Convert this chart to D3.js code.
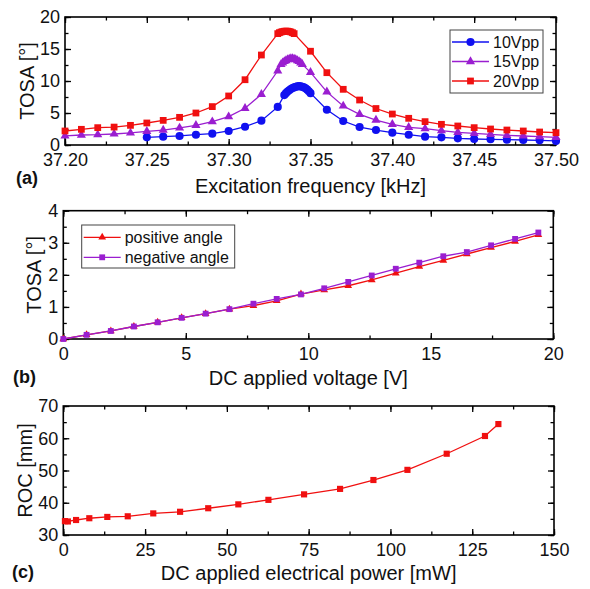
<!DOCTYPE html>
<html>
<head>
<meta charset="utf-8">
<script src="https://cdn.jsdelivr.net/npm/d3@7/dist/d3.min.js"></script>
<style>
body { margin: 0; background: #fff; }
</style>
</head>
<body>
<div id="chart"></div>
<script>
// panel (a): TOSA vs excitation frequency
var freq10 = [37.25, 37.26, 37.27, 37.28, 37.29, 37.30, 37.31, 37.32, 37.33,
    37.334, 37.335, 37.336, 37.337, 37.338, 37.339, 37.340, 37.341, 37.342, 37.343, 37.344, 37.345, 37.346, 37.347, 37.348, 37.349, 37.350,
    37.36, 37.37, 37.38, 37.39, 37.40, 37.41, 37.42, 37.43, 37.44, 37.45, 37.46, 37.47, 37.48, 37.49, 37.50];
var tosa10 = [1.20, 1.30, 1.41, 1.61, 1.77, 2.19, 2.86, 3.80, 5.95,
    7.8, 8.1, 8.35, 8.55, 8.75, 8.9, 9.0, 9.1, 9.15, 9.2, 9.15, 9.1, 9.0, 8.85, 8.65, 8.4, 8.1,
    5.5, 3.75, 2.81, 2.34, 1.93, 1.61, 1.30, 1.20, 1.04, 0.94, 0.89, 0.83, 0.78, 0.73, 0.63];
var freq15 = [37.20, 37.21, 37.22, 37.23, 37.24, 37.25, 37.26, 37.27, 37.28, 37.29, 37.30, 37.31, 37.32, 37.33,
    37.332, 37.333, 37.334, 37.335, 37.336, 37.337, 37.338, 37.339, 37.340, 37.341, 37.342, 37.343, 37.344, 37.345,
    37.35, 37.36, 37.37, 37.38, 37.39, 37.40, 37.41, 37.42, 37.43, 37.44, 37.45, 37.46, 37.47, 37.48, 37.49, 37.50];
var tosa15 = [1.41, 1.56, 1.61, 1.72, 1.88, 2.14, 2.34, 2.66, 3.07, 3.65, 4.43, 5.73, 7.92, 11.6,
    12.6, 12.85, 13.05, 13.2, 13.35, 13.45, 13.5, 13.5, 13.45, 13.35, 13.2, 13.05, 12.85, 12.6,
    11.35, 8.3, 6.1, 4.8, 3.9, 3.23, 2.76, 2.55, 2.24, 1.98, 1.82, 1.67, 1.51, 1.41, 1.30, 1.20];
var freq20 = [37.20, 37.21, 37.22, 37.23, 37.24, 37.25, 37.26, 37.27, 37.28, 37.29, 37.30, 37.31, 37.32,
    37.330, 37.331, 37.332, 37.333, 37.334, 37.335, 37.336, 37.337, 37.338, 37.339, 37.340,
    37.35, 37.36, 37.37, 37.38, 37.39, 37.40, 37.41, 37.42, 37.43, 37.44, 37.45, 37.46, 37.47, 37.48, 37.49, 37.50];
var tosa20 = [2.19, 2.45, 2.71, 2.80, 3.07, 3.44, 3.85, 4.32, 5.00, 6.00, 7.66, 10.2, 14.06,
    17.4, 17.55, 17.65, 17.72, 17.77, 17.8, 17.78, 17.74, 17.66, 17.55, 17.4,
    14.65, 11.3, 8.7, 7.03, 5.7, 4.84, 4.17, 3.65, 3.23, 2.97, 2.71, 2.5, 2.34, 2.19, 2.03, 1.93];

// panel (b): TOSA vs DC voltage
var voltage = [0, 0.95, 1.94, 2.88, 3.85, 4.83, 5.81, 6.78, 7.76, 8.71, 9.70,
    10.65, 11.63, 12.59, 13.57, 14.53, 15.51, 16.47, 17.46, 18.44, 19.39];
var tosaPos = [0, 0.13, 0.25, 0.39, 0.52, 0.66, 0.79, 0.93, 1.04, 1.19, 1.40,
    1.53, 1.66, 1.84, 2.05, 2.26, 2.45, 2.65, 2.85, 3.04, 3.25];
var tosaNeg = [0, 0.13, 0.25, 0.39, 0.52, 0.66, 0.79, 0.93, 1.10, 1.25, 1.39,
    1.58, 1.78, 1.98, 2.19, 2.38, 2.58, 2.71, 2.92, 3.12, 3.32];

// panel (c): ROC vs electrical power
var power = [0.5, 1.4, 3.9, 7.95, 13.45, 19.7, 27.5, 35.7, 44.3, 53.5, 62.7,
    73.6, 84.6, 94.8, 105.2, 117.2, 128.9, 133.0];
var roc = [34.3, 34.2, 34.65, 35.2, 35.6, 35.8, 36.7, 37.2, 38.3, 39.5, 40.9,
    42.6, 44.3, 47.05, 50.2, 55.2, 60.7, 64.4];

var FONT = "'Liberation Sans', Arial, Helvetica, sans-serif";
var BLUE = "#1010f0", PURPLE = "#9a1ed0", RED = "#f01010";

var svg = d3.select("#chart").append("svg")
    .attr("width", 590)
    .attr("height", 589)
    .style("font-family", FONT);

function drawPanel(p) {
    var x = d3.scaleLinear().domain(p.xDomain).range([p.left, p.right]);
    var y = d3.scaleLinear().domain(p.yDomain).range([p.bottom, p.top]);
    var g = svg.append("g");

    // minor ticks all four sides
    g.append("g").attr("transform", "translate(0," + p.bottom + ")")
        .call(d3.axisBottom(x).tickValues(p.xMinor).tickSizeInner(-3.5).tickSizeOuter(0).tickFormat(""));
    g.append("g").attr("transform", "translate(0," + p.top + ")")
        .call(d3.axisTop(x).tickValues(p.xMinor).tickSizeInner(-3.5).tickSizeOuter(0).tickFormat(""));
    g.append("g").attr("transform", "translate(" + p.left + ",0)")
        .call(d3.axisLeft(y).tickValues(p.yMinor).tickSizeInner(-3.5).tickSizeOuter(0).tickFormat(""));
    g.append("g").attr("transform", "translate(" + p.right + ",0)")
        .call(d3.axisRight(y).tickValues(p.yMinor).tickSizeInner(-3.5).tickSizeOuter(0).tickFormat(""));

    // major ticks
    g.append("g").attr("class", "lab").attr("transform", "translate(0," + p.bottom + ")")
        .call(d3.axisBottom(x).tickValues(p.xTicks).tickSizeInner(-6).tickSizeOuter(0).tickPadding(8).tickFormat(p.xFormat));
    g.append("g").attr("transform", "translate(0," + p.top + ")")
        .call(d3.axisTop(x).tickValues(p.xTicks).tickSizeInner(-6).tickSizeOuter(0).tickFormat(""));
    g.append("g").attr("class", "lab").attr("transform", "translate(" + p.left + ",0)")
        .call(d3.axisLeft(y).tickValues(p.yTicks).tickSizeInner(-6).tickSizeOuter(0).tickPadding(5).tickFormat(d3.format("d")));
    g.append("g").attr("transform", "translate(" + p.right + ",0)")
        .call(d3.axisRight(y).tickValues(p.yTicks).tickSizeInner(-6).tickSizeOuter(0).tickFormat(""));

    g.selectAll(".domain").remove();
    g.selectAll(".tick line").style("stroke", "#000").style("stroke-width", "1.3px");
    g.selectAll(".lab text")
        .style("font-family", FONT)
        .style("font-size", "18px")
        .style("fill", "#111");

    g.append("rect")
        .attr("x", p.left).attr("y", p.top)
        .attr("width", p.right - p.left).attr("height", p.bottom - p.top)
        .style("fill", "none").style("stroke", "#000").style("stroke-width", "1.6px");

    g.append("text")
        .attr("x", (p.left + p.right) / 2)
        .attr("y", p.xLabelY)
        .style("text-anchor", "middle")
        .style("font-size", "20px")
        .style("fill", "#111")
        .text(p.xLabel);
    g.append("text")
        .attr("transform", "rotate(-90)")
        .attr("x", -(p.top + p.bottom) / 2)
        .attr("y", p.yLabelX)
        .style("text-anchor", "middle")
        .style("font-size", "20px")
        .style("fill", "#111")
        .text(p.yLabel);
    g.append("text")
        .attr("x", p.tagX)
        .attr("y", p.tagY)
        .style("font-size", "18px")
        .style("font-weight", "bold")
        .style("fill", "#111")
        .text(p.tag);

    return { x: x, y: y, g: g };
}

function drawSeries(panel, xs, ys, color, symbol, size) {
    var pts = xs.map(function (d, i) { return [d, ys[i]]; });
    var line = d3.line()
        .x(function (d) { return panel.x(d[0]); })
        .y(function (d) { return panel.y(d[1]); });
    panel.g.append("path")
        .datum(pts)
        .attr("d", line)
        .style("fill", "none")
        .style("stroke", color)
        .style("stroke-width", "1.3px");
    panel.g.selectAll(null)
        .data(pts).enter()
        .append("path")
        .attr("transform", function (d) { return "translate(" + panel.x(d[0]) + "," + panel.y(d[1]) + ")"; })
        .attr("d", d3.symbol().type(symbol).size(size))
        .style("fill", color);
}

function drawLegend(panel, box, items) {
    panel.g.append("rect")
        .attr("x", box.x).attr("y", box.y)
        .attr("width", box.w).attr("height", box.h)
        .style("fill", "#fff").style("stroke", "#444").style("stroke-width", "1px");
    items.forEach(function (it, i) {
        var cy = box.y + box.first + i * box.step;
        panel.g.append("line")
            .attr("x1", box.x + 2).attr("x2", box.x + 2 + box.lineW)
            .attr("y1", cy).attr("y2", cy)
            .style("stroke", it.color).style("stroke-width", "1.3px");
        panel.g.append("path")
            .attr("transform", "translate(" + (box.x + 2 + box.lineW / 2) + "," + cy + ")")
            .attr("d", d3.symbol().type(it.symbol).size(it.size))
            .style("fill", it.color);
        panel.g.append("text")
            .attr("x", box.x + box.textX)
            .attr("y", cy)
            .attr("dy", "0.36em")
            .style("font-size", "16px")
            .style("fill", "#111")
            .text(it.label);
    });
}

// (a)
var pa = drawPanel({
    left: 65, right: 556, top: 17, bottom: 145,
    xDomain: [37.20, 37.50], yDomain: [0, 20],
    xTicks: d3.range(0, 7).map(function (i) { return 37.20 + i * 0.05; }),
    xMinor: d3.range(0, 13).map(function (i) { return 37.20 + i * 0.025; }),
    yTicks: [0, 5, 10, 15, 20],
    yMinor: [0, 2.5, 5, 7.5, 10, 12.5, 15, 17.5, 20],
    xFormat: d3.format(".2f"),
    xLabel: "Excitation frequency [kHz]", xLabelY: 193,
    yLabel: "TOSA [°]", yLabelX: 34,
    tag: "(a)", tagX: 16, tagY: 184
});
drawSeries(pa, freq10, tosa10, BLUE, d3.symbolCircle, 52);
drawSeries(pa, freq15, tosa15, PURPLE, d3.symbolTriangle, 36);
drawSeries(pa, freq20, tosa20, RED, d3.symbolSquare, 46);
drawLegend(pa, { x: 450, y: 30, w: 93, h: 63, first: 12, step: 19.5, lineW: 37, textX: 43 }, [
    { label: "10Vpp", color: BLUE, symbol: d3.symbolCircle, size: 52 },
    { label: "15Vpp", color: PURPLE, symbol: d3.symbolTriangle, size: 36 },
    { label: "20Vpp", color: RED, symbol: d3.symbolSquare, size: 46 }
]);

// (b)
var pb = drawPanel({
    left: 63.3, right: 553.3, top: 210.7, bottom: 339,
    xDomain: [0, 20], yDomain: [0, 4],
    xTicks: [0, 5, 10, 15, 20],
    xMinor: d3.range(0, 9).map(function (i) { return i * 2.5; }),
    yTicks: [0, 1, 2, 3, 4],
    yMinor: d3.range(0, 9).map(function (i) { return i * 0.5; }),
    xFormat: d3.format("d"),
    xLabel: "DC applied voltage [V]", xLabelY: 385,
    yLabel: "TOSA [°]", yLabelX: 41,
    tag: "(b)", tagX: 13, tagY: 383
});
drawSeries(pb, voltage, tosaPos, RED, d3.symbolTriangle, 26);
drawSeries(pb, voltage, tosaNeg, PURPLE, d3.symbolSquare, 34);
drawLegend(pb, { x: 81.7, y: 225, w: 153, h: 43, first: 12.3, step: 20, lineW: 37, textX: 43 }, [
    { label: "positive angle", color: RED, symbol: d3.symbolTriangle, size: 26 },
    { label: "negative angle", color: PURPLE, symbol: d3.symbolSquare, size: 34 }
]);

// (c)
var pc = drawPanel({
    left: 63.3, right: 554, top: 406, bottom: 535,
    xDomain: [0, 150], yDomain: [30, 70],
    xTicks: [0, 25, 50, 75, 100, 125, 150],
    xMinor: d3.range(0, 13).map(function (i) { return i * 12.5; }),
    yTicks: [30, 40, 50, 60, 70],
    yMinor: d3.range(30, 71, 5),
    xFormat: d3.format("d"),
    xLabel: "DC applied electrical power [mW]", xLabelY: 580,
    yLabel: "ROC [mm]", yLabelX: 32,
    tag: "(c)", tagX: 12, tagY: 578
});
drawSeries(pc, power, roc, RED, d3.symbolSquare, 38);
</script>
</body>
</html>
